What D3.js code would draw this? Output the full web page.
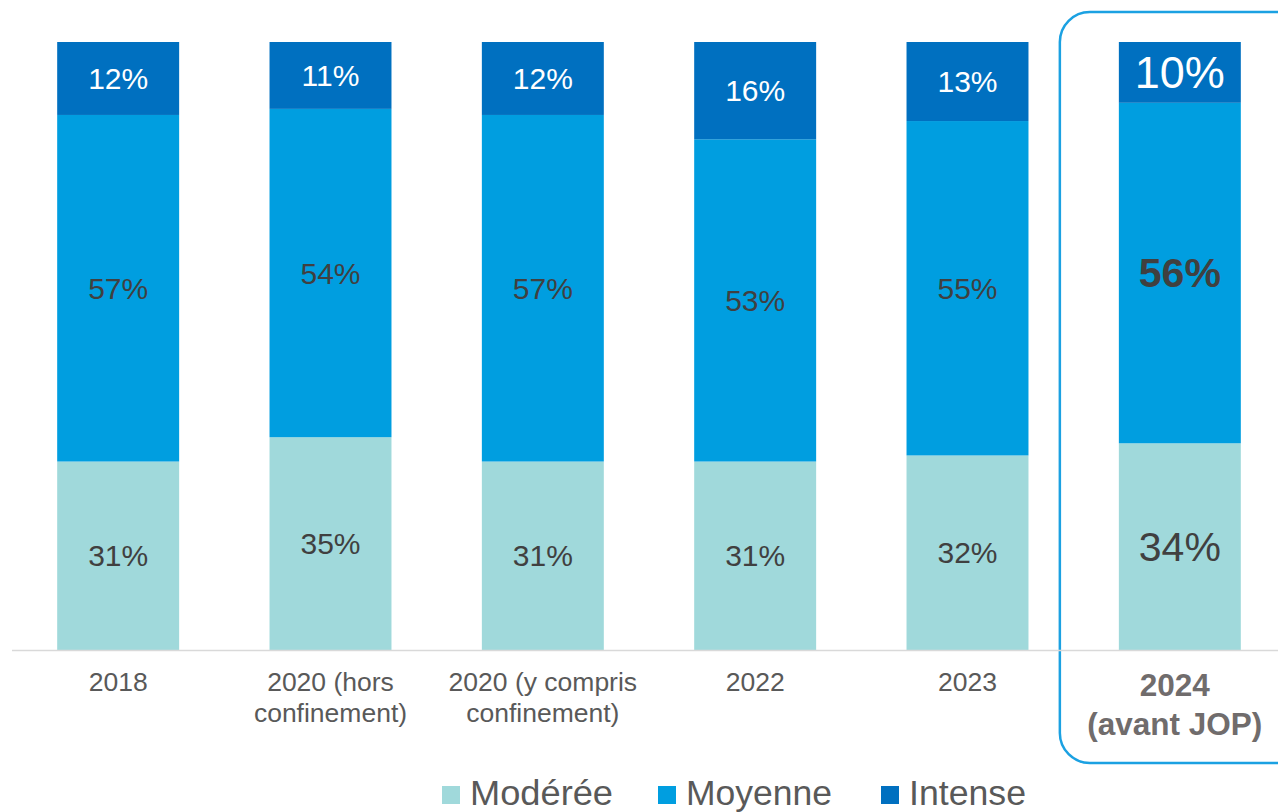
<!DOCTYPE html>
<html><head><meta charset="utf-8">
<script src="https://cdn.jsdelivr.net/npm/d3@7"></script>
<style>body{margin:0;background:#fff}svg{display:block;font-family:"Liberation Sans",Arial,sans-serif}</style>
</head><body>
<svg id="c" width="1278" height="812"></svg>
<script>
const categories = [["2018"],["2020 (hors","confinement)"],["2020 (y compris","confinement)"],["2022"],["2023"],["2024","(avant JOP)"]];
const moderee = [31,35,31,31,32,34];
const moyenne = [57,54,57,53,55,56];
const intense = [12,11,12,16,13,10];
const seriesNames = ["Modérée","Moyenne","Intense"];
const colors = ["#A0D9DB","#009EE0","#0070C0"];

const svg = d3.select("#c");
const keys = categories.map((c,i)=>"c"+i);
const x = d3.scaleBand().domain(keys).range([12,1286]).paddingInner(0.4256).paddingOuter(0.2128);
const y = d3.scaleLinear().domain([0,100]).range([650,42]);
const rows = keys.map((k,i)=>({k, Modérée:moderee[i], Moyenne:moyenne[i], Intense:intense[i]}));
const stack = d3.stack().keys(seriesNames)(rows);

// highlight box
const last = keys[keys.length-1];
svg.append("rect").attr("x", x(last)-59).attr("y",12).attr("width",260).attr("height",751)
  .attr("rx",30).attr("ry",30).attr("fill","none").attr("stroke","#1BA1E2").attr("stroke-width",2.5);

stack.forEach((s,si)=>{
  const g = svg.append("g");
  g.selectAll("rect").data(s).join("rect")
    .attr("x",d=>x(d.data.k)).attr("width",x.bandwidth())
    .attr("y",d=>y(d[1])).attr("height",d=>y(d[0])-y(d[1]))
    .attr("fill",colors[si]);
  g.selectAll("text").data(s).join("text")
    .attr("x",d=>x(d.data.k)+x.bandwidth()/2)
    .attr("y",d=>(y(d[0])+y(d[1]))/2)
    .attr("text-anchor","middle").attr("dominant-baseline","central")
    .attr("font-size",(d,i)=> i===5 ? (si===2?45:41) : 30)
    .attr("font-weight",(d,i)=> (i===5 && si===1)?"bold":"normal")
    .attr("fill", si===2 ? "#fff" : "#404040")
    .text(d=>(d[1]-d[0])+"%");
});

// baseline
svg.append("line").attr("x1",12).attr("x2",1278).attr("y1",650.5).attr("y2",650.5)
  .attr("stroke","#D9D9D9").attr("stroke-width",1.5);

// x labels
keys.forEach((k,i)=>{
  const isLast = i===keys.length-1;
  const t = svg.append("text").attr("text-anchor","middle")
    .attr("font-size", isLast?31.5:26.5).attr("font-weight", isLast?"bold":"normal")
    .attr("fill", isLast?"#706C6C":"#595959");
  categories[i].forEach((line,j)=>{
    t.append("tspan").attr("x",x(k)+x.bandwidth()/2 - (isLast?5:0))
     .attr("y", isLast ? 696 + j*39 : 691 + j*31).text(line);
  });
});

// legend
const legX = [442,658,881];
const legW = [143,146,117];
seriesNames.forEach((n,i)=>{
  svg.append("rect").attr("x",legX[i]).attr("y",786).attr("width",18).attr("height",18).attr("fill",colors[i]);
  svg.append("text").attr("x",legX[i]+28).attr("y",805).attr("font-size",35)
    .attr("textLength",legW[i]).attr("lengthAdjust","spacingAndGlyphs")
    .attr("fill","#595959").text(n);
});
</script>
</body></html>
